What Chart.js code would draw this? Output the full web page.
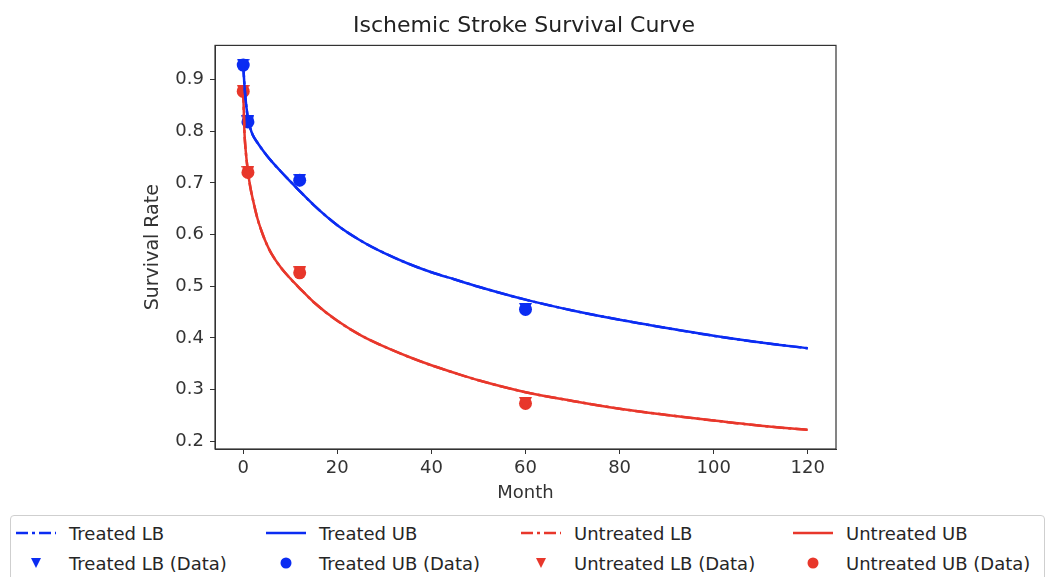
<!DOCTYPE html>
<html>
<head>
<meta charset="utf-8">
<script src="https://cdn.jsdelivr.net/npm/chart.js@4.4.0/dist/chart.umd.min.js"></script>
<style>
  body { margin: 0; background: #fff; font-family: "DejaVu Sans", sans-serif; }
  #wrap { position: relative; width: 1048px; height: 577px; overflow: hidden; }
  #legend { position: absolute; left: 10px; top: 515px; width: 1033px; height: 80px;
            border: 1px solid #cfcfcf; border-radius: 4px; background: #fff; }
  .item { position: absolute; height: 20px; display: flex; align-items: center;
          font-size: 18px; color: #262626; white-space: nowrap; }
  .item svg { margin-right: 13px; }
</style>
</head>
<body>
<div id="wrap">
  <canvas id="chart" width="1048" height="577"></canvas>
  <div id="legend"></div>
</div>
<script>
// fitted curves
const curveMonths    = [0, 0.25, 0.5, 1, 1.5, 2, 3, 4, 5, 6, 8, 10, 12, 15, 20, 25, 30, 35, 40, 45, 50, 60, 70, 80, 90, 100, 110, 120];
const treatedCurve   = [0.928, 0.890, 0.862, 0.825, 0.806, 0.793, 0.778, 0.765, 0.753, 0.742, 0.722, 0.703, 0.684, 0.657, 0.618, 0.588, 0.564, 0.544, 0.527, 0.513, 0.499, 0.474, 0.453, 0.435, 0.419, 0.404, 0.391, 0.380];
const untreatedCurve = [0.878, 0.800, 0.765, 0.722, 0.692, 0.670, 0.632, 0.604, 0.581, 0.563, 0.536, 0.515, 0.496, 0.469, 0.433, 0.405, 0.383, 0.364, 0.347, 0.332, 0.318, 0.295, 0.278, 0.263, 0.251, 0.240, 0.230, 0.222];
// LB and UB lines sit on top of each other in the picture
const treatedLBCurve = treatedCurve;
const untreatedLBCurve = untreatedCurve;

// observed points
const dataMonths    = [0, 1, 12, 60];
const treatedData   = [0.928, 0.818, 0.705, 0.455];
const untreatedData = [0.877, 0.720, 0.526, 0.273];

const xTicks = [0, 20, 40, 60, 80, 100, 120];
const yTicks = [0.2, 0.3, 0.4, 0.5, 0.6, 0.7, 0.8, 0.9];

const BLUE = "#0b2cf2";
const RED = "#e8372b";

const pts = (xs, ys) => xs.map((x, i) => ({ x: x, y: ys[i] }));

// matplotlib "v" marker: flat top level with the circle's top
function triangleDown(color, size) {
  const c = document.createElement("canvas");
  c.width = size; c.height = size;
  const g = c.getContext("2d");
  g.fillStyle = color;
  g.beginPath();
  g.moveTo(0, 0);
  g.lineTo(size, 0);
  g.lineTo(size / 2, size);
  g.closePath();
  g.fill();
  return c;
}

const lineSet = (label, ys, color, dash) => ({
  type: "line",
  label: label,
  data: pts(curveMonths, ys),
  borderColor: color,
  backgroundColor: color,
  borderWidth: 2.5,
  borderDash: dash,
  pointRadius: 0,
  cubicInterpolationMode: "monotone",
  fill: false
});

const markSet = (label, ys, color, style) => ({
  type: "scatter",
  label: label,
  data: pts(dataMonths, ys),
  backgroundColor: color,
  borderColor: color,
  borderWidth: 0,
  pointStyle: style === "triangle" ? triangleDown(color, 13) : "circle",
  pointRadius: 6.5
});

// box round the plot, like matplotlib's spines
const frame = {
  id: "frame",
  afterDraw(chart) {
    const a = chart.chartArea, ctx = chart.ctx;
    ctx.save();
    ctx.strokeStyle = "#333";
    ctx.lineWidth = 1.2;
    ctx.strokeRect(a.left, a.top, a.right - a.left, a.bottom - a.top);
    ctx.restore();
  }
};

const tickFont = { family: "DejaVu Sans", size: 18 };

new Chart(document.getElementById("chart"), {
  data: {
    datasets: [
      lineSet("Treated LB", treatedLBCurve, BLUE, [12, 4, 3, 4]),
      lineSet("Treated UB", treatedCurve, BLUE, []),
      lineSet("Untreated LB", untreatedLBCurve, RED, [12, 4, 3, 4]),
      lineSet("Untreated UB", untreatedCurve, RED, []),
      markSet("Treated LB (Data)", treatedData, BLUE, "triangle"),
      markSet("Treated UB (Data)", treatedData, BLUE, "circle"),
      markSet("Untreated LB (Data)", untreatedData, RED, "triangle"),
      markSet("Untreated UB (Data)", untreatedData, RED, "circle")
    ]
  },
  options: {
    responsive: false,
    animation: false,
    layout: { padding: { left: 0, right: 0, top: 0, bottom: 73 } },
    plugins: {
      legend: { display: false },
      tooltip: { enabled: false },
      title: {
        display: true,
        text: "Ischemic Stroke Survival Curve",
        color: "#222",
        font: { family: "DejaVu Sans", size: 22, weight: "normal" },
        padding: { top: 13, bottom: 6 }
      }
    },
    scales: {
      x: {
        type: "linear",
        min: -6,
        max: 126,
        afterBuildTicks: s => { s.ticks = xTicks.map(v => ({ value: v })); },
        afterFit: s => { s.height = 55; },
        grid: { drawOnChartArea: false, drawTicks: true, tickLength: 5, color: "#333" },
        border: { color: "#333" },
        ticks: { color: "#333", font: tickFont, padding: 4, maxRotation: 0 },
        title: { display: true, text: "Month", color: "#333", font: tickFont, padding: 0 }
      },
      y: {
        type: "linear",
        min: 0.185,
        max: 0.966,
        afterBuildTicks: s => { s.ticks = yTicks.map(v => ({ value: v })); },
        afterFit: s => { s.width = 215; },
        grid: { drawOnChartArea: false, drawTicks: true, tickLength: 5, color: "#333" },
        border: { color: "#333" },
        ticks: { color: "#333", font: tickFont, padding: 6, callback: v => v.toFixed(1) },
        title: { display: true, text: "Survival Rate", color: "#333",
                 font: { family: "DejaVu Sans", size: 19 }, padding: { top: 142, bottom: 0 } }
      },
      // empty right-hand box so the plot ends where the reference's does
      yRight: {
        type: "linear",
        position: "right",
        min: 0,
        max: 1,
        afterFit: s => { s.width = 212; },
        grid: { display: false },
        border: { display: false },
        ticks: { display: false }
      }
    }
  },
  plugins: [frame]
});

// legend: 4 columns, 2 rows, as in the picture
const legendItems = [
  ["Treated LB", BLUE, "dashdot"], ["Treated UB", BLUE, "line"],
  ["Untreated LB", RED, "dashdot"], ["Untreated UB", RED, "line"],
  ["Treated LB (Data)", BLUE, "tri"], ["Treated UB (Data)", BLUE, "dot"],
  ["Untreated LB (Data)", RED, "tri"], ["Untreated UB (Data)", RED, "dot"]
];
const colLeft = [5, 255, 510, 782];
const rowTop = [7, 37];

function symbol(kind, color) {
  let inner = "";
  if (kind === "line") inner = `<line x1="0" y1="10" x2="40" y2="10" stroke="${color}" stroke-width="2.5"/>`;
  if (kind === "dashdot") inner = `<line x1="0" y1="10" x2="40" y2="10" stroke="${color}" stroke-width="2.5" stroke-dasharray="12 4 3 4"/>`;
  if (kind === "tri") inner = `<polygon points="15,5 25,5 20,15" fill="${color}"/>`;
  if (kind === "dot") inner = `<circle cx="20" cy="10" r="5.5" fill="${color}"/>`;
  return `<svg width="40" height="20">${inner}</svg>`;
}

const legend = document.getElementById("legend");
legendItems.forEach((it, i) => {
  const div = document.createElement("div");
  div.className = "item";
  div.style.left = colLeft[i % 4] + "px";
  div.style.top = rowTop[Math.floor(i / 4)] + "px";
  div.innerHTML = symbol(it[2], it[1]) + `<span>${it[0]}</span>`;
  legend.appendChild(div);
});
</script>
</body>
</html>
